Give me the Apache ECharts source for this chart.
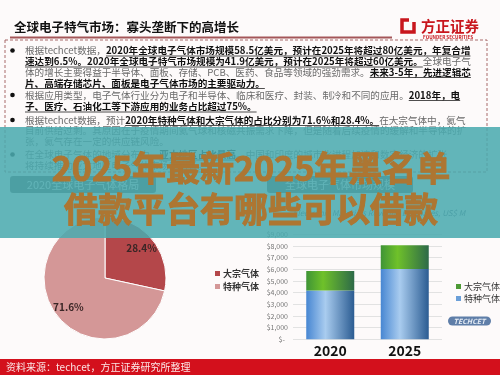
<!DOCTYPE html>
<html><head><meta charset="utf-8">
<script src="https://cdn.jsdelivr.net/npm/echarts@6.0.0/dist/echarts.min.js"></script>
<style>html,body{margin:0;padding:0;background:#fff}#c{width:500px;height:375px}</style>
</head><body><div id="c"></div>
<script>
// ---------- data ----------
const pieNames = ['大宗气体', '特种气体'];
const pieValues = [28.4, 71.6];
const barCategories = ['2020', '2025'];
const specialGas = [4190, 6020];   // 特种气体, US$ M
const bulkGas = [1660, 2040];      // 大宗气体, US$ M
const yTickValues = [0, 1000, 2000, 3000, 4000, 5000, 6000, 7000, 8000, 9000];
const slideTitle = '全球电子特气市场：寡头垄断下的高增长';
const pieTitle = '2020全球电子气体格局';
const barTitle = '全球电子气体市场规模';
const barSubtitle = 'Electronic Materials Revenue Estimates, US$ M';
const sourceText = '资料来源：techcet，方正证券研究所整理';
const overlayLines = ['2025年最新2025年黑名单', '借款平台有哪些可以借款'];
const bulletLines = [
  {b: true, parts: [['n', '根据techcet数据，'], ['b', '2020年全球电子气体市场规模58.5亿美元，预计在2025年将超过80亿美元，年复合增']]},
  {b: false, parts: [['b', '速达到6.5%。2020年全球电子特气市场规模为41.9亿美元，预计在2025年将超过60亿美元。'], ['n', '全球电子气']]},
  {b: false, parts: [['n', '体的增长主要得益于半导体、面板、存储、PCB、医药、食品等领域的强劲需求。'], ['b', '未来3-5年，先进逻辑芯']]},
  {b: false, parts: [['b', '片、高端存储芯片、面板是电子气体市场的主要驱动力。']]},
  {b: true, parts: [['n', '根据应用类型，电子气体行业分为电子和半导体、临床和医疗、封装、制冷和不同的应用。'], ['b', '2018年，电']]},
  {b: false, parts: [['b', '子、医疗、石油化工等下游应用的业务占比超过75%。']]},
  {b: true, parts: [['n', '根据techcet数据，预计'], ['b', '2020年特种气体和大宗气体的占比分别为71.6%和28.4%。'], ['n', '在大宗气体中，氦气']]},
  {b: false, parts: [['n', '目前供给过剩。其原因在于疫情期间氦气球和核磁共振需求下降，但是随着后续疫情的缓解和半导体的扩']]},
  {b: false, parts: [['n', '张，氦气存在一定的供应链风险。']]},
  {b: true, parts: [['n', '在全球电子气体的地域分布中，'], ['b', '亚太地区占比最高'], ['n', '。中国和印度的城市化进程加速和数字经济的扩张']]},
  {b: false, parts: [['n', '将持续推动亚太地区电子气体市场的增长。']]}
];

// ---------- layout ----------
const FONT = "'Noto Sans CJK SC','Noto Sans',sans-serif";
const lineY = [50.5, 61.5, 72, 83, 95, 106.5, 120, 130.5, 141, 154.5, 165];
const pieColors = ['#b4474a', '#d49797'];
const green = {type: 'linear', x: 0, y: 0, x2: 1, y2: 0, colorStops: [
  {offset: 0, color: '#3f9436'}, {offset: 0.35, color: '#6fc12a'}, {offset: 1, color: '#2d6a48'}]};
const blue = {type: 'linear', x: 0, y: 0, x2: 1, y2: 0, colorStops: [
  {offset: 0, color: '#4786d2'}, {offset: 0.4, color: '#a9ccef'}, {offset: 1, color: '#2b5c92'}]};

const measureCtx = document.createElement('canvas').getContext('2d');
const fontN = '9.6px ' + FONT, fontB = 'bold 9.6px ' + FONT;

const graphics = [];
// title
graphics.push({type: 'text', x: 14, y: 27, style: {text: slideTitle, font: 'bold 12.5px ' + FONT, fill: '#111', verticalAlign: 'middle'}});
graphics.push({type: 'line', shape: {x1: 10, y1: 37.5, x2: 392, y2: 37.5}, style: {stroke: '#a45658', lineWidth: 2}});
// logo
graphics.push({type: 'rect', shape: {x: 402, y: 20, width: 12, height: 12}, style: {fill: 'none', stroke: '#c8161d', lineWidth: 3.5}});
graphics.push({type: 'rect', shape: {x: 409, y: 17, width: 7, height: 5}, style: {fill: '#fdfafa'}});
graphics.push({type: 'text', x: 421, y: 26, style: {text: '方正证券', font: 'bold 14.5px ' + FONT, fill: '#c8161d', verticalAlign: 'middle'}});
graphics.push({type: 'text', x: 423, y: 37.5, style: {text: 'FOUNDER SECURITIES', font: 'bold 4.6px ' + FONT, fill: '#c8161d', verticalAlign: 'middle'}});
// dashed box
graphics.push({type: 'rect', shape: {x: 5, y: 40, width: 482, height: 132}, style: {fill: 'none', stroke: '#a86a6a', lineWidth: 1, lineDash: [3, 2]}});
// bullet text, parts placed side by side, bold parts underlined
bulletLines.forEach((ln, i) => {
  const y = lineY[i];
  if (ln.b) graphics.push({type: 'circle', shape: {cx: 12.5, cy: y, r: 2.3}, style: {fill: '#111'}});
  let x = 25;
  ln.parts.forEach(([k, t]) => {
    const f = k === 'b' ? fontB : fontN;
    measureCtx.font = f;
    const w = measureCtx.measureText(t).width;
    graphics.push({type: 'text', x: x, y: y, style: {text: t, font: f, fill: k === 'b' ? '#111' : '#6a6a6a', verticalAlign: 'middle'}});
    if (k === 'b') graphics.push({type: 'line', shape: {x1: x, y1: y + 5.5, x2: x + w, y2: y + 5.5}, style: {stroke: '#222', lineWidth: 0.8}});
    x += w;
  });
});
// chart title boxes
[[10, pieTitle], [267, barTitle]].forEach(([x, t]) => {
  graphics.push({type: 'rect', shape: {x: x, y: 176, width: 146, height: 17, r: 3}, style: {fill: '#5a5a5a'}});
  graphics.push({type: 'text', x: x + 73, y: 184.5, style: {text: t, font: '11px ' + FONT, fill: '#f2f2f2', align: 'center', verticalAlign: 'middle'}});
});
graphics.push({type: 'text', x: 379, y: 213, style: {text: barSubtitle, font: 'italic 8px ' + FONT, fill: '#4a5a70', align: 'center', verticalAlign: 'middle'}});
// TECHCET pill
graphics.push({type: 'rect', shape: {x: 448, y: 316.5, width: 43, height: 9, r: 4.5}, style: {fill: '#5f7ea8'}});
graphics.push({type: 'text', x: 469.5, y: 321, style: {text: 'TECHCET', font: 'italic bold 7px ' + FONT, fill: '#e8eef6', align: 'center', verticalAlign: 'middle'}});
// footer
graphics.push({type: 'rect', shape: {x: 0, y: 359, width: 500, height: 16}, style: {fill: '#d3101c'}});
graphics.push({type: 'text', x: 6, y: 367.5, style: {text: sourceText, font: '10px ' + FONT, fill: '#fbe6e6', verticalAlign: 'middle'}});
// teal overlay
graphics.push({type: 'rect', z: 100, shape: {x: 0, y: 127, width: 500, height: 111}, style: {fill: 'rgba(75,170,175,0.87)'}});
overlayLines.forEach((t, i) => {
  graphics.push({type: 'text', z: 101, x: 251, y: 168 + i * 41, style: {text: t, font: 'bold 34px ' + FONT, fill: '#ad7632', stroke: '#ad7632', lineWidth: 1, align: 'center', verticalAlign: 'middle'}});
});

const option = {
  backgroundColor: '#fdfafa',
  animation: false,
  graphic: {elements: graphics},
  legend: [
    {left: 210, top: 264, orient: 'vertical', itemWidth: 5, itemHeight: 5, itemGap: 4, icon: 'rect',
     textStyle: {fontSize: 9, fontWeight: 'bold', color: '#333', fontFamily: FONT, padding: [0, 0, 0, -2]},
     data: pieNames.map((n, i) => ({name: n, itemStyle: {color: pieColors[i]}}))},
    {left: 451, top: 277, orient: 'vertical', itemWidth: 5, itemHeight: 5, itemGap: 3, icon: 'rect',
     textStyle: {fontSize: 9, color: '#333', fontFamily: FONT, padding: [0, 0, 0, -2]},
     data: [{name: '大宗气体', itemStyle: {color: '#4d9a35'}}, {name: '特种气体', itemStyle: {color: '#6b9fd8'}}]}
  ],
  grid: {left: 293, right: 58, top: 234.3, bottom: 35.7},
  xAxis: {type: 'category', data: barCategories, axisLine: {show: false}, axisTick: {show: false},
    axisLabel: {margin: 4, fontSize: 14, fontWeight: 'bold', color: '#111', fontFamily: FONT}},
  yAxis: {type: 'value', min: yTickValues[0], max: yTickValues[yTickValues.length - 1], interval: yTickValues[1] - yTickValues[0],
    axisLabel: {margin: 5, fontSize: 7, color: '#777', fontFamily: FONT,
      formatter: v => v === 0 ? '$-  ' : '$' + v.toLocaleString('en-US')},
    splitLine: {lineStyle: {color: '#e2e2e2'}}, axisLine: {show: false}, axisTick: {show: false}},
  series: [
    {type: 'bar', name: '特种气体', stack: 's', data: specialGas, barWidth: 48, itemStyle: {color: blue}},
    {type: 'bar', name: '大宗气体', stack: 's', data: bulkGas, barWidth: 48, itemStyle: {color: green}},
    {type: 'pie', center: [105, 278], radius: 61, startAngle: 90, clockwise: true,
     data: pieNames.map((n, i) => ({name: n, value: pieValues[i], itemStyle: {color: pieColors[i]}})),
     itemStyle: {borderColor: '#fff', borderWidth: 1}, label: {show: false}, labelLine: {show: false}},
    {type: 'pie', center: [105, 278], radius: 88, startAngle: 90, clockwise: true, silent: true,
     data: pieNames.map((n, i) => ({name: n, value: pieValues[i], itemStyle: {color: 'rgba(0,0,0,0)'}})),
     label: {show: true, position: 'inside', formatter: p => p.value.toFixed(1) + '%', fontSize: 10, fontWeight: 'bold', color: '#3a2626', fontFamily: FONT},
     labelLine: {show: false}}
  ]
};
const chart = echarts.init(document.getElementById('c'), null, {renderer: 'canvas'});
chart.setOption(option);
</script></body></html>
